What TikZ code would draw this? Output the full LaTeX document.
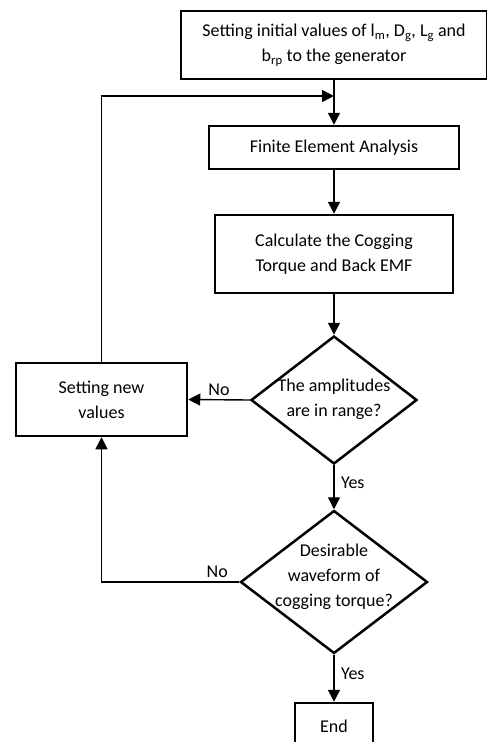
\documentclass[tikz,border=0pt]{standalone}
\usepackage{fontspec}
\setmainfont{Carlito}
\usetikzlibrary{shapes.geometric,arrows.meta}

\begin{document}
\begin{tikzpicture}[x=1pt,y=-1pt,
    font=\fontsize{18}{25}\selectfont,
    block/.style={draw,line width=2.5pt,rectangle,inner sep=0pt,align=center},
    test/.style={draw,line width=2.5pt,diamond,inner sep=0pt},
    inside/.style 2 args={label={[align=center,yshift=#1]center:{#2}}},
    flow/.style={line width=1.4pt,-{Triangle[length=12pt,width=12pt]}}]
  \useasboundingbox (0,0) rectangle (487,742);

  %boxes
  \node [block,minimum width=306pt,minimum height=68pt] (init) at (334,45)
    {Setting initial values of l\textsubscript{m}, D\textsubscript{g}, L\textsubscript{g} and\\ b\textsubscript{rp} to the generator};
  \node [block,minimum width=250pt,minimum height=43pt] (fea) at (334,147.5) {Finite Element Analysis};
  \node [block,minimum width=238pt,minimum height=78pt] (calc) at (334,254) {Calculate the Cogging\\ Torque and Back EMF};
  \node [test,minimum width=166pt,minimum height=128pt,
    inside={1pt}{The amplitudes\\ are in range?}] (amp) at (334,400) {};
  \node [block,minimum width=171pt,minimum height=73pt] (newval) at (101.5,399.5) {Setting new\\ values};
  \node [test,minimum width=187pt,minimum height=143pt,
    inside={5pt}{Desirable\\ waveform of\\ cogging torque?}] (wave) at (334,582) {};
  \node [block,minimum width=78pt,minimum height=46pt] (finish) at (334,726) {End};
  \coordinate (join) at (334,96);

  %arrows
  \draw [flow] (init.south) -- (fea.north);
  \draw [flow] (newval.north) |- (join);
  \draw [flow] (fea.south) -- (calc.north);
  \draw [flow] (calc.south) -- (amp.north);
  \draw [flow] (amp.west) -- node[above] {No} (newval.east);
  \draw [flow] (amp.south) -- node[right,xshift=3pt,pos=0.4] {Yes} (wave.north);
  \draw [flow] (wave.west) -| node[above,pos=0.08] {No} (newval.south);
  \draw [flow] (wave.south) -- node[right,xshift=3pt,pos=0.4] {Yes} (finish.north);

\end{tikzpicture}
\end{document}
